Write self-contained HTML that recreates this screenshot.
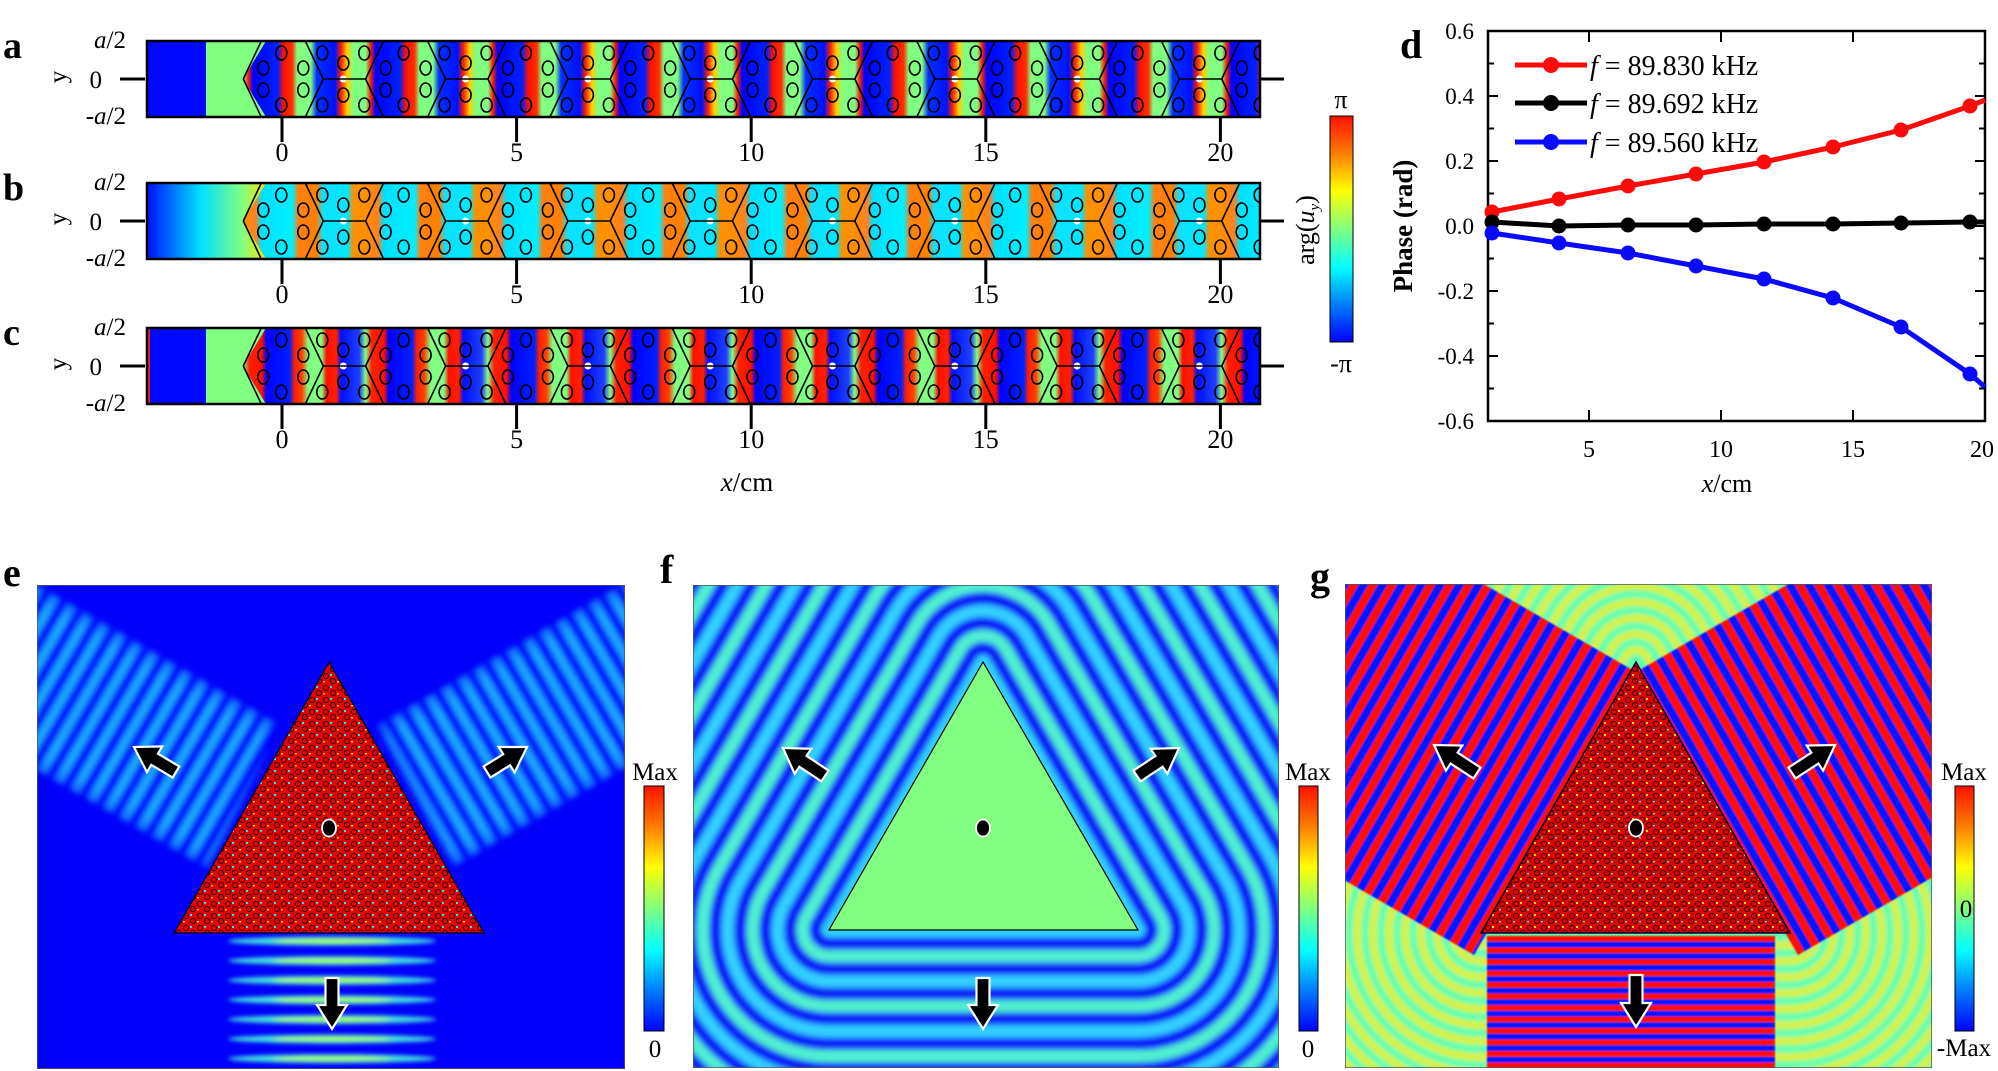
<!DOCTYPE html>
<html><head><meta charset="utf-8">
<style>
html,body{margin:0;padding:0;background:#fff;width:1998px;height:1071px;overflow:hidden;}
svg{display:block;font-family:"Liberation Serif",serif;}
</style></head>
<body>
<svg id="s" xmlns="http://www.w3.org/2000/svg" width="1998" height="1071" viewBox="0 0 1998 1071">
<defs>
<linearGradient id="jet" x1="0" y1="0" x2="0" y2="1">
<stop offset="0" stop-color="#ff1000"/><stop offset="0.17" stop-color="#ff8000"/><stop offset="0.33" stop-color="#ffff00"/><stop offset="0.5" stop-color="#80ff80"/><stop offset="0.67" stop-color="#00ffff"/><stop offset="0.83" stop-color="#0080ff"/><stop offset="1" stop-color="#0000ff"/>
</linearGradient>
<linearGradient id="ga" gradientUnits="userSpaceOnUse" x1="243.3" y1="0" x2="365.6" y2="0" spreadMethod="repeat">
<stop offset="0" stop-color="#80ff80"/><stop offset="0.04" stop-color="#ff2000"/><stop offset="0.08" stop-color="#0000ff"/><stop offset="0.28" stop-color="#0020ff"/><stop offset="0.33" stop-color="#ff1000"/><stop offset="0.40" stop-color="#ff3000"/><stop offset="0.44" stop-color="#80ff80"/><stop offset="0.55" stop-color="#80ff80"/><stop offset="0.60" stop-color="#0030ff"/><stop offset="0.75" stop-color="#0010ff"/><stop offset="0.80" stop-color="#ff2000"/><stop offset="0.85" stop-color="#ffd000"/><stop offset="0.9" stop-color="#80ff80"/><stop offset="1" stop-color="#80ff80"/>
</linearGradient>
<linearGradient id="gb" gradientUnits="userSpaceOnUse" x1="243.3" y1="0" x2="365.6" y2="0" spreadMethod="repeat">
<stop offset="0" stop-color="#ff9000"/><stop offset="0.1" stop-color="#ff8020"/><stop offset="0.15" stop-color="#00e0ff"/><stop offset="0.4" stop-color="#00f0ff"/><stop offset="0.45" stop-color="#ff8010"/><stop offset="0.6" stop-color="#ff8000"/><stop offset="0.65" stop-color="#10e0ff"/><stop offset="0.85" stop-color="#00e8ff"/><stop offset="0.9" stop-color="#ff9000"/><stop offset="1" stop-color="#ff9000"/>
</linearGradient>
<linearGradient id="gc" gradientUnits="userSpaceOnUse" x1="243.3" y1="0" x2="365.6" y2="0" spreadMethod="repeat">
<stop offset="0" stop-color="#80ff80"/><stop offset="0.05" stop-color="#ff2000"/><stop offset="0.15" stop-color="#ff1000"/><stop offset="0.19" stop-color="#0000ff"/><stop offset="0.38" stop-color="#0020ff"/><stop offset="0.42" stop-color="#ff2000"/><stop offset="0.48" stop-color="#ff4000"/><stop offset="0.53" stop-color="#80ff80"/><stop offset="0.64" stop-color="#80ff80"/><stop offset="0.68" stop-color="#ff1000"/><stop offset="0.76" stop-color="#ff2000"/><stop offset="0.80" stop-color="#0010ff"/><stop offset="0.95" stop-color="#2040ff"/><stop offset="1" stop-color="#80ff80"/>
</linearGradient>
<linearGradient id="bleft" x1="0" y1="0" x2="1" y2="0">
<stop offset="0" stop-color="#0010ff"/><stop offset="0.45" stop-color="#00e0ff"/><stop offset="0.8" stop-color="#80ff80"/><stop offset="1" stop-color="#ffe000"/>
</linearGradient>
<pattern id="tex" width="14" height="12" patternUnits="userSpaceOnUse">
<rect width="14" height="12" fill="#e80000"/>
<circle cx="4" cy="4" r="2.6" fill="none" stroke="#300" stroke-width="1"/>
<circle cx="11" cy="9" r="2.6" fill="none" stroke="#300" stroke-width="1"/>
<rect x="8" y="2" width="2" height="2" fill="#30e0ff"/>
<rect x="1" y="9" width="2" height="1.5" fill="#ffe000"/>
</pattern>
<pattern id="texg" width="14" height="12" patternUnits="userSpaceOnUse">
<rect width="14" height="12" fill="#e00000"/>
<circle cx="4" cy="4" r="2.6" fill="none" stroke="#300" stroke-width="1"/>
<circle cx="11" cy="9" r="2.6" fill="none" stroke="#300" stroke-width="1"/>
<rect x="8" y="2" width="2" height="2" fill="#ffe000"/>
<rect x="1" y="9" width="2" height="1.5" fill="#30e0ff"/>
</pattern>
<filter id="bl3" filterUnits="userSpaceOnUse" x="0" y="0" width="1998" height="1071"><feGaussianBlur stdDeviation="3"/></filter>
<filter id="bl2" filterUnits="userSpaceOnUse" x="0" y="0" width="1998" height="1071"><feGaussianBlur stdDeviation="2"/></filter>
<filter id="bl1" filterUnits="userSpaceOnUse" x="0" y="0" width="1998" height="1071"><feGaussianBlur stdDeviation="0.9"/></filter>
<filter id="bl8" filterUnits="userSpaceOnUse" x="0" y="0" width="1998" height="1071"><feGaussianBlur stdDeviation="10"/></filter>
<clipPath id="cpe"><rect x="37" y="585" width="588" height="484"/></clipPath>
<clipPath id="cpf"><rect x="693" y="585" width="586" height="483"/></clipPath>
<clipPath id="cpg"><rect x="1345" y="584" width="587" height="484"/></clipPath>
</defs>
<g id="root"></g>

<g id="pd" font-size="23">
<text x="1400" y="58" font-size="40" font-weight="bold">d</text>
<g text-anchor="end">
<text x="1474" y="39">0.6</text><text x="1474" y="104">0.4</text><text x="1474" y="169">0.2</text><text x="1474" y="234">0.0</text><text x="1474" y="299">-0.2</text><text x="1474" y="364">-0.4</text><text x="1474" y="429">-0.6</text>
</g>
<g text-anchor="middle" font-size="24">
<text x="1589" y="457">5</text><text x="1721" y="457">10</text><text x="1853" y="457">15</text><text x="1982" y="457">20</text>
</g>
<text x="1727" y="492" text-anchor="middle" font-size="26"><tspan font-style="italic">x</tspan>/cm</text>
<text transform="translate(1412,226) rotate(-90)" text-anchor="middle" font-size="27" font-weight="bold">Phase (rad)</text>
</g>
</svg>
<script>
const NS='http://www.w3.org/2000/svg';
const root=document.getElementById('root');
const defs=document.querySelector('defs');
function el(t,a,p){const e=document.createElementNS(NS,t);for(const k in a)e.setAttribute(k,a[k]);(p||root).appendChild(e);return e;}
function txt(x,y,s,a,p){const e=el('text',Object.assign({x:x,y:y},a||{}),p);e.innerHTML=s;return e;}

const strips=[{y:41,g:'ga',lab:'a',type:'a'},{y:183,g:'gb',lab:'b',type:'b'},{y:328,g:'gc',lab:'c',type:'c'}];
strips.forEach((s,i)=>{
  const y0=s.y,h=76,y1=y0+h,cy=y0+h/2;
  const cp=el('clipPath',{id:'cs'+i},defs);el('rect',{x:147,y:y0,width:1113,height:h},cp);
  const g0=el('g',{});
  const g=el('g',{'clip-path':`url(#cs${i})`},g0);
  if(s.type==='a'){el('rect',{x:147,y:y0,width:59,height:h,fill:'#0008ff'},g);el('rect',{x:206,y:y0,width:60,height:h,fill:'#80ff80'},g);}
  else if(s.type==='b'){el('rect',{x:147,y:y0,width:119,height:h,fill:'url(#bleft)'},g);}
  else {el('rect',{x:147,y:y0,width:3,height:h,fill:'#ff2000'},g);el('rect',{x:150,y:y0,width:56,height:h,fill:'#0008ff'},g);el('rect',{x:206,y:y0,width:60,height:h,fill:'#80ff80'},g);}
  el('polygon',{points:`266,${y0} 1260,${y0} 1260,${y1} 266,${y1} 243,${cy}`,fill:`url(#${s.g})`},g);
  let d='';
  for(let k=0;k<9;k++){
    const L=243.3+122.3*k;
    d+=`M${L},${cy}L${L+18},${y0}M${L+62},${y0}L${L+80},${cy}L${L+62},${y1}M${L+18},${y1}L${L},${cy}`;
    d+=`M${L+80},${cy}L${L+122.3},${cy}`;
    [[38,-26],[38,26],[20,-11],[20,11],[60,-11],[60,11],[100,-16],[100,16],[79,-26],[79,26],[121,-26],[121,26]].forEach(c=>{const x=L+c[0];el('ellipse',{cx:x,cy:cy+c[1],rx:5.5,ry:7,fill:'none',stroke:'#000','stroke-width':1.6},g);});
    el('circle',{cx:L+100,cy:cy,r:3.5,fill:'#fff'},g);
  }
  el('path',{d:d,stroke:'#000','stroke-width':1.6,fill:'none'},g);
  el('rect',{x:147,y:y0,width:1113,height:h,fill:'none',stroke:'#000','stroke-width':2.5},g0);
  el('line',{x1:120,y1:cy,x2:145,y2:cy,stroke:'#000','stroke-width':3},g0);
  el('line',{x1:1261,y1:cy,x2:1284,y2:cy,stroke:'#000','stroke-width':3},g0);
  for(let t=0;t<5;t++){const x=282+234.6*t;el('line',{x1:x,y1:y1,x2:x,y2:y1+25,stroke:'#000','stroke-width':3},g0);
    txt(x,y1+44,String(t*5),{'text-anchor':'middle','font-size':26},g0);}
  txt(3,y0+17,s.lab,{'font-size':38,'font-weight':'bold'},g0);
  txt(126,y0+7,'<tspan font-style="italic">a</tspan>/2',{'text-anchor':'end','font-size':25},g0);
  txt(102,cy+9,'0',{'text-anchor':'end','font-size':25},g0);
  txt(126,y1+7,'-<tspan font-style="italic">a</tspan>/2',{'text-anchor':'end','font-size':25},g0);
  txt(0,0,'y',{'font-size':25,transform:`translate(66,${cy-2}) rotate(-90)`,'text-anchor':'middle'},g0);
});
txt(747,491,'<tspan font-style="italic">x</tspan>/cm',{'text-anchor':'middle','font-size':27});
el('rect',{x:1330,y:116,width:23,height:226,fill:'url(#jet)',stroke:'#000','stroke-width':1});
txt(1341,108,'π',{'text-anchor':'middle','font-size':26});
txt(1341,372,'-π',{'text-anchor':'middle','font-size':26});
txt(0,0,'arg(<tspan font-style="italic">u</tspan><tspan font-style="italic" font-size="15" dy="5">y</tspan><tspan dy="-5">)</tspan>',{'font-size':26,'text-anchor':'middle',transform:'translate(1314,230) rotate(-90)'});

const pd=document.getElementById('pd');
const Y=v=>226-v*325;
el('rect',{x:1488,y:31,width:497,height:390,fill:'none',stroke:'#000','stroke-width':2.5},pd);
for(let i=-6;i<=6;i++){const y=Y(i/10);const maj=Math.abs(i)%2===0;
  el('line',{x1:1488,y1:y,x2:1488+(maj?10:6),y2:y,stroke:'#000','stroke-width':2},pd);
  el('line',{x1:1985,y1:y,x2:1985-(maj?10:6),y2:y,stroke:'#000','stroke-width':2},pd);}
[1589,1721,1853].forEach(x=>{el('line',{x1:x,y1:421,x2:x,y2:410,stroke:'#000','stroke-width':2},pd);el('line',{x1:x,y1:31,x2:x,y2:42,stroke:'#000','stroke-width':2},pd);});
const xs=[1492,1559,1628,1696,1764,1833,1901,1970];
const series=[{c:'#ff0a0a',y:[212,199,186,174,162,147,130,106],end:100},{c:'#000',y:[222,226,225,225,224,224,223,222],end:222},{c:'#0a0aff',y:[233,243,253,266,279,298,327,374],end:387}];
series.forEach(s=>{let pts=xs.map((x,i)=>x+','+s.y[i]).join(' ')+' 1985,'+s.end;
  el('polyline',{points:pts,fill:'none',stroke:s.c,'stroke-width':5,'stroke-linejoin':'round'},pd);
  xs.forEach((x,i)=>el('circle',{cx:x,cy:s.y[i],r:7.5,fill:s.c},pd));});
const legY=[65,103,142],labs=['89.830','89.692','89.560'];
series.forEach((s,i)=>{el('line',{x1:1515,y1:legY[i],x2:1587,y2:legY[i],stroke:s.c,'stroke-width':5},pd);
  el('circle',{cx:1551,cy:legY[i],r:8,fill:s.c},pd);
  txt(1590,legY[i]+10,'<tspan font-style="italic">f</tspan> = '+labs[i]+' kHz',{'font-size':28},pd);});

function arrow(tx,ty,hx,hy,p){const dx=hx-tx,dy=hy-ty,L=Math.hypot(dx,dy),ux=dx/L,uy=dy/L,nx=-uy,ny=ux;
  const sw=6.5,hw=15,hl=24,bx=hx-ux*hl,by=hy-uy*hl;
  const P=[[tx+nx*sw,ty+ny*sw],[bx+nx*sw,by+ny*sw],[bx+nx*hw,by+ny*hw],[hx,hy],[bx-nx*hw,by-ny*hw],[bx-nx*sw,by-ny*sw],[tx-nx*sw,ty-ny*sw]];
  el('polygon',{points:P.map(q=>q.join(',')).join(' '),fill:'#000',stroke:'#fff','stroke-width':2.2},p);}
function band(A,B,L,fill,p,out){const [nx,ny]=out;
  const pts=[A,B,[B[0]+nx*L,B[1]+ny*L],[A[0]+nx*L,A[1]+ny*L]];
  return el('polygon',{points:pts.map(q=>q.join(',')).join(' '),fill:fill},p);}
function stripePattern(id,angle,period,c1,c2,frac){const pt=el('pattern',{id:id,width:period,height:period,patternUnits:'userSpaceOnUse',patternTransform:`rotate(${angle})`},defs);
  el('rect',{width:period,height:period,fill:c1},pt);el('rect',{width:period*frac,height:period,fill:c2},pt);}
stripePattern('se_l',30,19,'#0000ff','#20c8ff',0.45);
stripePattern('se_r',-30,19,'#0000ff','#20c8ff',0.45);
stripePattern('sg_l',30,16.6,'#0018ff','#ff0a00',0.5);
stripePattern('sg_r',-30,16.6,'#0018ff','#ff0a00',0.5);
const OL=[-0.866,-0.5],OR=[0.866,-0.5];

// panel e
{const g=el('g',{'clip-path':'url(#cpe)'});
 el('rect',{x:37,y:585,width:588,height:484,fill:'#0000fa'},g);
 const m=el('mask',{id:'me',maskUnits:'userSpaceOnUse',x:0,y:0,width:1998,height:1071},defs);
 const mg=el('g',{filter:'url(#bl8)'},m);
 band([282,725],[208,870],320,'#fff',mg,[-0.866,-0.5]);
 band([376,725],[450,870],320,'#fff',mg,[0.866,-0.5]);
 const bg=el('g',{filter:'url(#bl3)',mask:'url(#me)',opacity:0.85},g);
 band([282,725],[208,870],420,'url(#se_l)',bg,OL);
 band([376,725],[450,870],420,'url(#se_r)',bg,OR);
 const bs=el('g',{filter:'url(#bl2)'},g);
 for(let y=941;y<1075;y+=19.6){el('ellipse',{cx:332,cy:y,rx:104,ry:4.5,fill:'#40e0e0'},bs);el('ellipse',{cx:332,cy:y,rx:60,ry:2.5,fill:'#a0ff60'},bs);}
 el('polygon',{points:'329,662 174,933 484,933',fill:'url(#tex)',stroke:'#003','stroke-width':1.5},g);
 arrow(176,772,134,747,g);arrow(487,772,527,747,g);arrow(332,978,332,1029,g);
 el('ellipse',{cx:329,cy:828,rx:7,ry:8.5,fill:'#000',stroke:'#fff','stroke-width':1.8},g);
 el('rect',{x:37,y:585,width:588,height:484,fill:'none',stroke:'#555','stroke-width':1.5},g);
}
txt(3,586,'e',{'font-size':40,'font-weight':'bold'});
el('rect',{x:644,y:786,width:20,height:245,fill:'url(#jet)',stroke:'#000','stroke-width':1});
txt(655,780,'Max',{'text-anchor':'middle','font-size':25});
txt(655,1057,'0',{'text-anchor':'middle','font-size':25});

// panel f
{const g=el('g',{'clip-path':'url(#cpf)'});
 el('rect',{x:693,y:585,width:586,height:483,fill:'#0010ff'},g);
 const rg=el('g',{filter:'url(#bl3)'},g);
 const tri='M983,662L829,930L1138,930Z';
 let k=0;for(let d=720;d>4;d-=12.5){const c=(k%2===0)?'#0818f8':((k%4===1)?'#30d0ff':'#50f0d0');
   el('path',{d:tri,fill:c,stroke:c,'stroke-width':2*d,'stroke-linejoin':'round'},rg);k++;}
 el('path',{d:tri,fill:'#80ff80',stroke:'#000','stroke-width':1.2},g);
 arrow(825,776,783,748,g);arrow(1137,776,1179,748,g);arrow(983,978,983,1029,g);
 el('ellipse',{cx:983,cy:828,rx:7,ry:8.5,fill:'#000',stroke:'#fff','stroke-width':1.8},g);
 el('rect',{x:693,y:585,width:586,height:483,fill:'none',stroke:'#555','stroke-width':1.5},g);
}
txt(660,583,'f',{'font-size':40,'font-weight':'bold'});
el('rect',{x:1299,y:786,width:19,height:245,fill:'url(#jet)',stroke:'#000','stroke-width':1});
txt(1308,780,'Max',{'text-anchor':'middle','font-size':25});
txt(1308,1057,'0',{'text-anchor':'middle','font-size':25});

// panel g
{const g=el('g',{'clip-path':'url(#cpg)'});
 el('rect',{x:1345,y:584,width:587,height:484,fill:'#a8ff58'},g);
 const rg=el('g',{filter:'url(#bl2)'},g);
 const tri='M1636,662L1481,933L1790,933Z';
 let k=0;for(let d=720;d>4;d-=8){const c=(k%2===0)?'#d8f040':'#60ffb0';
   el('path',{d:tri,fill:c,stroke:c,'stroke-width':2*d,'stroke-linejoin':'round'},rg);k++;}
 const bg=el('g',{filter:'url(#bl1)'},g);
 band([1636,672],[1474,955],700,'url(#sg_l)',bg,OL);
 band([1636,672],[1798,955],700,'url(#sg_r)',bg,OR);
 for(let y=936;y<1072;y+=11.5){el('rect',{x:1487,y:y,width:288,height:5.8,fill:'#ff0a00'},bg);el('rect',{x:1487,y:y+5.8,width:288,height:5.8,fill:'#0018ff'},bg);}
 el('polygon',{points:'1636,662 1481,933 1790,933',fill:'url(#texg)',stroke:'#003','stroke-width':1.5},g);
 arrow(1477,773,1434,745,g);arrow(1792,773,1835,745,g);arrow(1636,975,1636,1027,g);
 el('ellipse',{cx:1636,cy:828,rx:7,ry:8.5,fill:'#000',stroke:'#fff','stroke-width':1.8},g);
 el('rect',{x:1345,y:584,width:587,height:484,fill:'none',stroke:'#555','stroke-width':1.5},g);
}
txt(1310,590,'g',{'font-size':40,'font-weight':'bold'});
el('rect',{x:1955,y:786,width:19,height:245,fill:'url(#jet)',stroke:'#000','stroke-width':1});
txt(1964,780,'Max',{'text-anchor':'middle','font-size':25});
txt(1966,917,'0',{'text-anchor':'middle','font-size':25});
txt(1964,1056,'-Max',{'text-anchor':'middle','font-size':25});
</script>
</body></html>
